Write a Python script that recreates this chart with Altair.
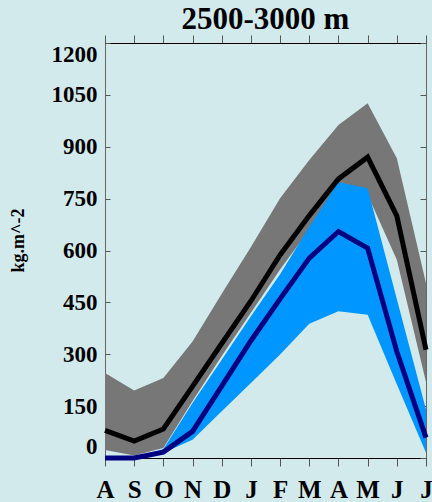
import altair as alt
import pandas as pd

# ---- data ----
months = ["A", "S", "O", "N", "D", "J", "F", "M", "A", "M", "J", "J"]
gray_upper = [246, 195, 231, 337, 475, 610, 751, 862, 963, 1026, 867, 505]
gray_lower = [23, 7, 29, 165, 295, 420, 545, 660, 770, 761, 573, 220]
black_line = [80, 49, 84, 207, 331, 454, 587, 701, 807, 870, 700, 313]
blue_upper = [0, 0, 26, 159, 284, 410, 531, 669, 797, 780, 460, 140]
blue_lower = [0, 0, 15, 53, 135, 217, 299, 388, 424, 414, 213, 15]
navy_line = [0, 0, 17, 77, 208, 339, 460, 578, 655, 607, 308, 59]
y_ticks = [0, 150, 300, 450, 600, 750, 900, 1050, 1200]
title_text = "2500-3000 m"
y_title = "kg.m^-2"

idx = list(range(len(months)))
df = pd.DataFrame({
    "i": idx,
    "month": months,
    "gray_hi": gray_upper,
    "gray_lo": gray_lower,
    "black": black_line,
    "blue_hi": blue_upper,
    "blue_lo": blue_lower,
    "navy": navy_line,
})

FONT = "Liberation Serif"
label_expr = "[" + ",".join(f"'{m}'" for m in months) + "][datum.value]"

xscale = alt.Scale(domain=[0, len(months) - 1], nice=False, zero=False)
yscale = alt.Scale(domain=[0, 1200], nice=False)

x_bottom = alt.X(
    "i:Q", scale=xscale,
    axis=alt.Axis(orient="bottom", values=idx, labelExpr=label_expr, title=None,
                  grid=False, tickSize=8, tickColor="#555555", domainColor="#000000",
                  labelFont=FONT, labelFontSize=25, labelFontWeight="bold",
                  labelColor="#000000", labelPadding=11, labelFlush=False),
)
x_top = alt.X(
    "i:Q", scale=xscale,
    axis=alt.Axis(orient="top", values=idx, labels=False, title=None, grid=False,
                  tickSize=8, tickColor="#555555", domainColor="#000000"),
)
x_none = alt.X("i:Q", scale=xscale, axis=None)

y_left = alt.Y(
    "gray_hi:Q", scale=yscale,
    axis=alt.Axis(orient="left", values=y_ticks, format="d", title=y_title, grid=False,
                  domain=False, tickSize=5, offset=-5, tickColor="#555555",
                  labelFont=FONT, labelFontSize=23, labelFontWeight="bold",
                  labelColor="#000000", labelPadding=8, labelFlush=True,
                  titleFont=FONT, titleFontSize=18, titleFontWeight="bold",
                  titleColor="#000000", titleAngle=270, titleAlign="center",
                  titleBaseline="middle", titleX=-92, titleY=197),
)
y_right = alt.Y(
    "black:Q", scale=yscale,
    axis=alt.Axis(orient="right", values=y_ticks, labels=False, title=None,
                  grid=False, domain=False, tickSize=6, offset=-6,
                  tickColor="#555555"),
)

base = alt.Chart(df)

gray = base.mark_area(color="#777777", opacity=1).encode(
    x=x_bottom, y=y_left, y2="gray_lo:Q")
blue = base.mark_area(color="#0096ff", opacity=1).encode(
    x=x_none, y=alt.Y("blue_hi:Q", scale=yscale, axis=None), y2="blue_lo:Q")
black = base.mark_line(color="#000000", strokeWidth=5).encode(
    x=x_top, y=y_right)
navy = base.mark_line(color="#000080", strokeWidth=5).encode(
    x=x_none, y=alt.Y("navy:Q", scale=yscale, axis=None))

chart = (
    alt.layer(gray, blue, black, navy)
    .resolve_axis(x="independent", y="independent")
    .properties(
        width=321,
        height=415,
        autosize=alt.AutoSizeParams(type="none"),
        padding={"left": 105, "top": 43, "right": 6, "bottom": 44},
        background="#d3eaed",
        title=alt.TitleParams(title_text, font=FONT, fontSize=31, fontWeight="bold",
                              color="#000000", anchor="middle", offset=2, dy=3),
    )
    .configure_view(stroke="#666666", strokeWidth=1)
)

chart.save("out.html", embed_options={"renderer": "svg", "actions": False})
